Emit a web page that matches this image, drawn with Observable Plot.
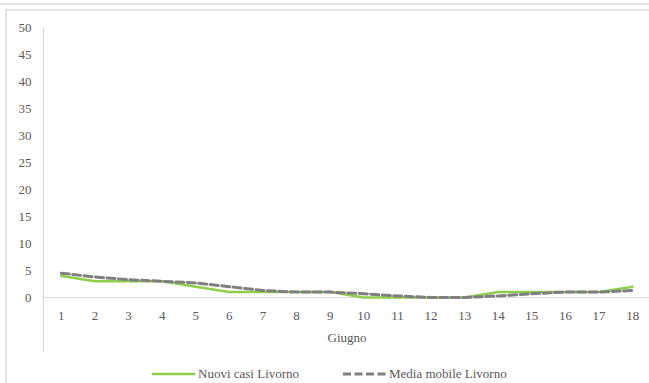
<!DOCTYPE html>
<html>
<head>
<meta charset="utf-8">
<script src="https://cdn.jsdelivr.net/npm/d3@7"></script>
<script src="https://cdn.jsdelivr.net/npm/@observablehq/plot@0.6"></script>
<style>
  html, body { margin: 0; padding: 0; background: #fff; }
  body { width: 649px; height: 383px; position: relative; overflow: hidden; font-family: "Liberation Serif", serif; }
  #topline { position: absolute; left: 0; top: 3px; width: 649px; height: 2px; background: #e3e3e3; }
  #box { position: absolute; left: 5px; top: 9px; width: 650px; height: 380px; border-top: 2px solid #e3e3e3; border-left: 2px solid #e3e3e3; box-sizing: border-box; }
  #chart { position: absolute; left: 0; top: 0; }
  #legend { position: absolute; left: 0; top: 365px; width: 649px; height: 18px; font-size: 13px; color: #595959; }
  .item { position: absolute; top: 0; display: flex; align-items: center; height: 18px; }
  .item svg { margin-right: 3px; }
</style>
</head>
<body>
<div id="topline"></div>
<div id="box"></div>
<div id="chart"></div>
<div id="legend"></div>
<script>
const days = [1,2,3,4,5,6,7,8,9,10,11,12,13,14,15,16,17,18];
const nuoviCasi = [4,3,3,3,2,1,1,1,1,0,0,0,0,1,1,1,1,2];
const mediaMobile = [4.5,3.8,3.3,3,2.7,2,1.3,1,1,0.7,0.3,0,0,0.3,0.7,1,1,1.3];
const yTicks = [0,5,10,15,20,25,30,35,40,45,50];
const seriesNames = ["Nuovi casi Livorno", "Media mobile Livorno"];
const xLabel = "Giugno";

const green = "#8fcf4c";
const gray = "#7f7f7f";
const textColor = "#595959";

const rowsA = days.map((d, i) => ({day: d, v: nuoviCasi[i]}));
const rowsB = days.map((d, i) => ({day: d, v: mediaMobile[i]}));

const H = 358, mt = 27, mb = 61, ml = 44;
const plot = Plot.plot({
  width: 649,
  height: H,
  marginTop: mt,
  marginBottom: mb,
  marginLeft: ml,
  marginRight: 0,
  style: {fontFamily: "Liberation Serif, serif", fontSize: "13px", color: textColor, background: "transparent"},
  x: {type: "point", domain: days, padding: 0.5, round: false, label: null},
  y: {domain: [0, 50], ticks: yTicks, label: null},
  marks: [
    Plot.ruleY([0], {stroke: "#d9d9d9", strokeWidth: 1}),
    Plot.axisY({ticks: yTicks, tickSize: 0, tickPadding: 13, fill: textColor, fontSize: 13, label: null}),
    Plot.axisX({tickSize: 0, tickPadding: 13, fill: textColor, fontSize: 13, label: null}),
    Plot.text([xLabel], {frameAnchor: "bottom", dy: 44, fill: textColor, fontSize: 13}),
    Plot.line(rowsA, {x: "day", y: "v", stroke: green, strokeWidth: 2.5}),
    Plot.line(rowsB, {x: "day", y: "v", stroke: gray, strokeWidth: 3, strokeDasharray: "8,3.5"})
  ]
});
document.getElementById("chart").appendChild(plot);
d3.select(plot).append("line")
  .attr("x1", ml - 0.5).attr("x2", ml - 0.5)
  .attr("y1", mt).attr("y2", 352)
  .attr("stroke", "#d9d9d9").attr("stroke-width", 1);

const legend = d3.select("#legend");
const items = [
  {name: seriesNames[0], left: 152, color: green, dash: null, w: 2.5},
  {name: seriesNames[1], left: 343, color: gray, dash: "8,3.5", w: 3}
];
items.forEach(it => {
  const div = legend.append("div").attr("class", "item").style("left", it.left + "px");
  const s = div.append("svg").attr("width", 43).attr("height", 10);
  s.append("line").attr("x1", 0).attr("x2", 43).attr("y1", 5).attr("y2", 5)
    .attr("stroke", it.color).attr("stroke-width", it.w)
    .attr("stroke-dasharray", it.dash);
  div.append("span").text(it.name);
});
</script>
</body>
</html>
